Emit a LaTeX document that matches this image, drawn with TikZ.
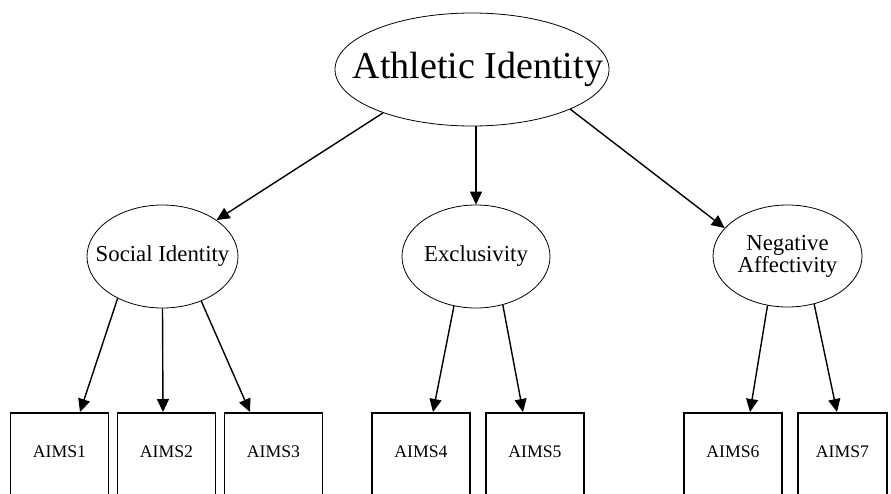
\documentclass[tikz,border=0pt]{standalone}
\usepackage{fontspec}
\setmainfont{Liberation Serif}
\usetikzlibrary{shapes.geometric,arrows.meta}
\begin{document}
\begin{tikzpicture}[x=1pt,y=-1pt,
  latent/.style={ellipse,draw,line width=0.8pt,inner sep=0pt},
  lattext/.style={font=\fontsize{22.8}{23}\selectfont,align=center},
  obs/.style={rectangle,draw,line width=1.6pt,inner sep=0pt,minimum width=98pt,text height=45pt,text depth=55pt,anchor=north,font=\fontsize{17.7}{18}\selectfont},
  arr/.style={line width=1.4pt,-{Triangle[length=13pt,width=12pt]}}]
\useasboundingbox (0,0) rectangle (891,493);
\clip (0,0) rectangle (891,493);
\node[latent,minimum width=274pt,minimum height=113pt,label={[font=\fontsize{38}{39}\selectfont,xshift=6pt]center:Athletic Identity}] (ai) at (472,69.5) {};
\node[latent,minimum width=151pt,minimum height=103pt,label={[lattext]center:Social Identity}] (si) at (162.5,256.5) {};
\node[latent,minimum width=148pt,minimum height=103pt,label={[lattext]center:Exclusivity}] (ex) at (476,256.5) {};
\node[latent,minimum width=149pt,minimum height=102pt,label={[lattext]center:Negative\\[-1pt]Affectivity}] (na) at (787.5,256) {};
\node[obs] (b1) at (59.5,412) {AIMS1};
\node[obs] (b2) at (166.5,412) {AIMS2};
\node[obs] (b3) at (273.5,412) {AIMS3};
\node[obs] (b4) at (421,412) {AIMS4};
\node[obs] (b5) at (535,412) {AIMS5};
\node[obs] (b6) at (733,412) {AIMS6};
\node[obs,minimum width=89pt] (b7) at (842.5,412) {AIMS7};
\draw[arr] (ai.206.8) -- (si.34);
\draw[arr] (ex.north |- ai.south) -- (ex.north);
\draw[arr] (ai.338.5) -- (na.156);
\draw[arr] (si.223) -- ([xshift=20.5pt]b1.north);
\draw[arr] (si.270) -- ([xshift=-3.5pt]b2.north);
\draw[arr] (si.311) -- ([xshift=-23.5pt]b3.north);
\draw[arr] (ex.246.5) -- ([xshift=12pt]b4.north);
\draw[arr] (ex.299) -- ([xshift=-12pt]b5.north);
\draw[arr] (na.248.7) -- ([xshift=17pt]b6.north);
\draw[arr] (na.299) -- ([xshift=-5.5pt]b7.north);
\end{tikzpicture}
\end{document}
